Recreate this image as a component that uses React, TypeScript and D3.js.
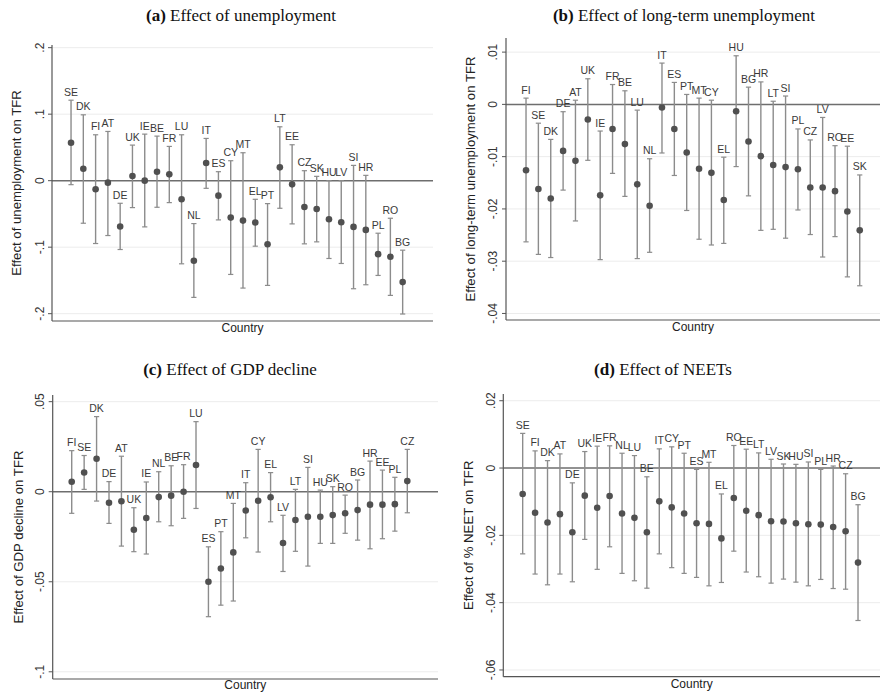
import * as d3 from 'd3';

// (a) unemployment
const unempCountries = ['SE','DK','FI','AT','DE','UK','IE','BE','FR','LU','NL','IT','ES','CY','MT','EL','PT','LT','EE','CZ','SK','HU','LV','SI','HR','PL','RO','BG'];
const unempEst = [.057,.018,-.013,-.003,-.069,.007,0,.0135,.0095,-.028,-.1205,.0265,-.0225,-.0555,-.06,-.063,-.0955,.02,-.0055,-.0395,-.0425,-.058,-.0625,-.0695,-.074,-.1105,-.1145,-.1525];
const unempHi = [.121,.099,.069,.074,-.034,.0535,.07,.067,.0515,.069,-.0645,.0635,.0135,.03,.042,-.028,-.0345,.081,.054,.015,.0065,0,0,.023,.008,-.079,-.0565,-.1045];
const unempLo = [-.006,-.064,-.0945,-.0825,-.1035,-.0405,-.0695,-.04,-.033,-.125,-.1755,-.0115,-.059,-.141,-.1615,-.0985,-.1575,-.0415,-.065,-.095,-.092,-.117,-.1245,-.1625,-.1565,-.1425,-.1725,-.2005];
const unempTicks = [.2,.1,0,-.1,-.2];
const unempTickLabels = ['.2','.1','0','-.1','-.2'];

// (b) long-term unemployment
const ltuCountries = ['FI','SE','DK','DE','AT','UK','IE','FR','BE','LU','NL','IT','ES','PT','MT','CY','EL','HU','BG','HR','LT','SI','PL','CZ','LV','RO','EE','SK'];
const ltuEst = [-.0126,-.0162,-.018,-.0089,-.0108,-.0029,-.0174,-.0047,-.0076,-.0153,-.0194,-.0006,-.0047,-.0092,-.0123,-.0131,-.0183,-.0013,-.0071,-.0099,-.0116,-.012,-.0124,-.0159,-.0159,-.0166,-.0205,-.0241];
const ltuHi = [.0012,-.0036,-.0067,-.0014,.0008,.0049,-.0051,.0038,.0026,-.0011,-.0104,.0079,.0042,.0019,.0012,.0008,-.0101,.0093,.0033,.0043,.0006,.0016,-.0047,-.0068,-.0025,-.0079,-.008,-.0135];
const ltuLo = [-.0263,-.0287,-.0293,-.0164,-.0223,-.0107,-.0297,-.0132,-.0176,-.0295,-.0283,-.0093,-.0136,-.0203,-.0258,-.0269,-.0266,-.0119,-.0175,-.0241,-.0239,-.0256,-.0202,-.0249,-.0292,-.0253,-.033,-.0347];
const ltuTicks = [.01,0,-.01,-.02,-.03,-.04];
const ltuTickLabels = ['.01','0','-.01','-.02','-.03','-.04'];

// (c) GDP decline
const gdpCountries = ['FI','SE','DK','DE','AT','UK','IE','NL','BE','FR','LU','ES','PT','MT','IT','CY','EL','LV','LT','SI','HU','SK','RO','BG','HR','EE','PL','CZ'];
const gdpEst = [.0055,.0107,.0183,-.0061,-.0053,-.0211,-.0146,-.003,-.0022,0,.0148,-.05,-.0426,-.0337,-.0104,-.005,-.0031,-.0285,-.0157,-.0139,-.0139,-.013,-.012,-.0102,-.0072,-.0072,-.0069,.0059];
const gdpHi = [.0228,.0201,.0417,.0056,.0197,-.0089,.0054,.0111,.0144,.015,.0389,-.0306,-.0222,-.0065,.005,.0235,.0106,-.0131,.0013,.0135,.0009,.0028,-.0019,.0065,.017,.012,.008,.0235];
const gdpLo = [-.012,.0013,-.0052,-.0176,-.0302,-.0333,-.0346,-.0167,-.0189,-.0148,-.0093,-.0694,-.063,-.0607,-.0256,-.0335,-.0167,-.0443,-.0331,-.0413,-.0287,-.0287,-.0231,-.0269,-.0317,-.0261,-.0219,-.0117];
const gdpTicks = [.05,0,-.05,-.1];
const gdpTickLabels = ['.05','0','-.05','-.1'];

// (d) NEETs
const neetCountries = ['SE','FI','DK','AT','DE','UK','IE','FR','NL','LU','BE','IT','CY','PT','ES','MT','EL','RO','EE','LT','LV','SK','HU','SI','PL','HR','CZ','BG'];
const neetEst = [-.0077,-.0133,-.0162,-.0137,-.0191,-.0082,-.0118,-.0083,-.0135,-.0148,-.0191,-.0099,-.0117,-.0135,-.0164,-.0166,-.0209,-.0089,-.0127,-.014,-.0158,-.0159,-.0164,-.0167,-.0168,-.0175,-.0188,-.0281];
const neetHi = [.0103,.0051,.0022,.0042,-.0044,.0049,.0065,.0066,.0044,.0037,-.0026,.0057,.0063,.0044,-.0004,.0017,-.0077,.0067,.0056,.0045,.0026,.0012,.0011,.0018,-.0004,.0006,-.0017,-.0109];
const neetLo = [-.0255,-.0315,-.0347,-.0315,-.0338,-.0212,-.0301,-.0234,-.0313,-.0335,-.0357,-.0255,-.0296,-.0313,-.0325,-.035,-.034,-.0247,-.0309,-.0323,-.0342,-.033,-.0339,-.035,-.0331,-.0358,-.036,-.0453];
const neetTicks = [.02,0,-.02,-.04,-.06];
const neetTickLabels = ['.02','0','-.02','-.04','-.06'];

const SANS = '"Liberation Sans", Arial, sans-serif';
const SERIF = '"Liberation Serif", "Times New Roman", serif';

const panels = [
  { tag: '(a)', title: 'Effect of unemployment', yTitle: 'Effect of unemployment on TFR',
    countries: unempCountries, est: unempEst, lo: unempLo, hi: unempHi, ticks: unempTicks, tickLabels: unempTickLabels,
    yDomain: [-.211, .204], x0: 52, x1: 433, y0: 45, y1: 321, padL: 1.55, padR: 2.47,
    titleX: 241, titleY: 21, yTitleX: 16, tickX: 40, countryY: 332 },
  { tag: '(b)', title: 'Effect of long-term unemployment', yTitle: 'Effect of long-term unemployment on TFR',
    countries: ltuCountries, est: ltuEst, lo: ltuLo, hi: ltuHi, ticks: ltuTicks, tickLabels: ltuTickLabels,
    yDomain: [-.04125, .0127], x0: 506, x1: 880, y0: 38, y1: 320, padL: 1.62, padR: 1.64,
    titleX: 684, titleY: 21, yTitleX: 470, tickX: 493, countryY: 331 },
  { tag: '(c)', title: 'Effect of GDP decline', yTitle: 'Effect of GDP decline on TFR',
    countries: gdpCountries, est: gdpEst, lo: gdpLo, hi: gdpHi, ticks: gdpTicks, tickLabels: gdpTickLabels,
    yDomain: [-.104, .0537], x0: 52.7, x1: 438, y0: 395, y1: 679, padL: 1.53, padR: 2.47,
    titleX: 230, titleY: 375, yTitleX: 18, tickX: 40, countryY: 689 },
  { tag: '(d)', title: 'Effect of NEETs', yTitle: 'Effect of % NEET on TFR',
    countries: neetCountries, est: neetEst, lo: neetLo, hi: neetHi, ticks: neetTicks, tickLabels: neetTickLabels,
    yDomain: [-.062, .022], x0: 503.3, x1: 880, y0: 394, y1: 676.7, padL: 1.56, padR: 1.77,
    titleX: 663, titleY: 375, yTitleX: 468, tickX: 491, countryY: 688 },
];

function Panel({ p }) {
  const n = p.countries.length;
  const x = d3.scaleLinear().domain([-p.padL, n - 1 + p.padR]).range([p.x0, p.x1]);
  const y = d3.scaleLinear().domain(p.yDomain).range([p.y1, p.y0]);
  const cap = 2.6;

  return (
    <g>
      <text x={p.titleX} y={p.titleY} textAnchor="middle" fontFamily={SERIF} fontSize={17} fill="#111">
        <tspan fontWeight="bold">{p.tag}</tspan> {p.title}
      </text>

      {p.ticks.filter(t => t !== 0).map(t => (
        <line key={'g' + t} x1={p.x0} x2={p.x1} y1={y(t)} y2={y(t)} stroke="#ececec" strokeWidth={1} />
      ))}

      {p.ticks.map((t, i) => (
        <g key={'t' + t}>
          <line x1={p.x0 - 4} x2={p.x0} y1={y(t)} y2={y(t)} stroke="#555" strokeWidth={1} />
          <text transform={`translate(${p.tickX},${y(t)}) rotate(-90)`} textAnchor="middle" dy="0.35em"
            fontFamily={SANS} fontSize={12} fill="#333">{p.tickLabels[i]}</text>
        </g>
      ))}

      <line x1={p.x0} x2={p.x1} y1={y(0)} y2={y(0)} stroke="#6e6e6e" strokeWidth={1.5} />

      {p.countries.map((c, i) => {
        const cx = x(i);
        return (
          <g key={c}>
            <line x1={cx} x2={cx} y1={y(p.hi[i])} y2={y(p.lo[i])} stroke="#8c8c8c" strokeWidth={1.4} />
            <line x1={cx - cap} x2={cx + cap} y1={y(p.hi[i])} y2={y(p.hi[i])} stroke="#8c8c8c" strokeWidth={1.2} />
            <line x1={cx - cap} x2={cx + cap} y1={y(p.lo[i])} y2={y(p.lo[i])} stroke="#8c8c8c" strokeWidth={1.2} />
            <circle cx={cx} cy={y(p.est[i])} r={3.3} fill="#505050" />
            <text x={cx} y={y(p.hi[i]) - 4.5} textAnchor="middle" fontFamily={SANS} fontSize={10.5} fill="#3a3a3a">{c}</text>
          </g>
        );
      })}

      <line x1={p.x0} x2={p.x0} y1={p.y0} y2={p.y1} stroke="#555" strokeWidth={1.2} />
      <line x1={p.x0} x2={p.x1} y1={p.y1} y2={p.y1} stroke="#555" strokeWidth={1.2} />

      <text transform={`translate(${p.yTitleX},${(p.y0 + p.y1) / 2}) rotate(-90)`} textAnchor="middle" dy="0.35em"
        fontFamily={SANS} fontSize={13.2} fill="#222">{p.yTitle}</text>
      <text x={(p.x0 + p.x1) / 2} y={p.countryY} textAnchor="middle" fontFamily={SANS} fontSize={12} fill="#222">Country</text>
    </g>
  );
}

export default function App() {
  return (
    <svg width={888} height={693} style={{ position: 'absolute', left: 0, top: 0, background: '#fff' }}>
      <rect width={888} height={693} fill="#fff" />
      {panels.map(p => <Panel key={p.tag} p={p} />)}
    </svg>
  );
}
